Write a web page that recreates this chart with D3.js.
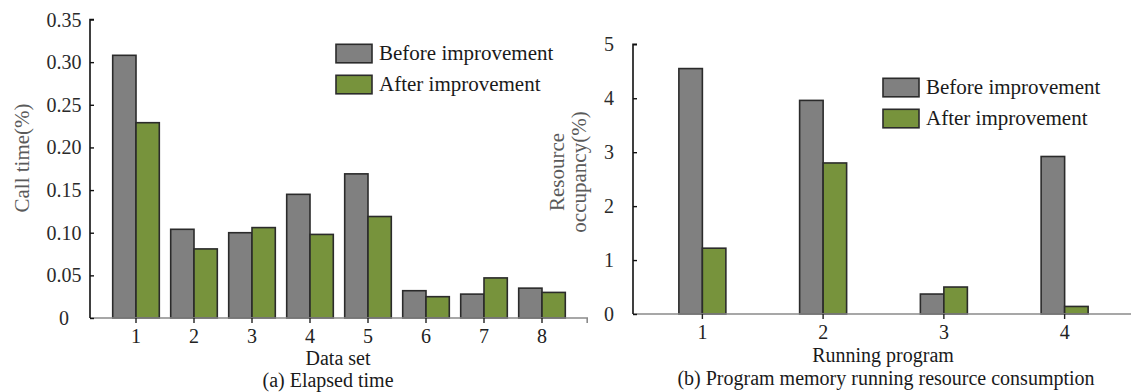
<!DOCTYPE html>
<html>
<head>
<meta charset="utf-8">
<script src="https://cdn.jsdelivr.net/npm/d3@7"></script>
<style>
  html, body { margin: 0; padding: 0; background: #fff; }
  svg { display: block; }
  text { font-family: "Liberation Serif", "Times New Roman", serif; }
</style>
</head>
<body>
<svg id="chart" width="1131" height="392"></svg>
<script>
// ---- data: (a) elapsed time ----
const dataSets = ["1", "2", "3", "4", "5", "6", "7", "8"];
const callBefore = [0.308, 0.104, 0.100, 0.145, 0.169, 0.032, 0.028, 0.035];
const callAfter  = [0.229, 0.081, 0.106, 0.098, 0.119, 0.025, 0.047, 0.030];
const callTicks  = [0, 0.05, 0.10, 0.15, 0.20, 0.25, 0.30, 0.35];

// ---- data: (b) resource consumption ----
const programs    = ["1", "2", "3", "4"];
const resBefore   = [4.55, 3.96, 0.37, 2.92];
const resAfter    = [1.22, 2.80, 0.50, 0.14];
const resTicks    = [0, 1, 2, 3, 4, 5];

const seriesNames = ["Before improvement", "After improvement"];
const seriesFill  = ["#808080", "#77933c"];
const barStroke   = "#2b2b2b";

const svg = d3.select("#chart");

function drawPanel(cfg) {
  const g = svg.append("g");
  const x = d3.scaleBand().domain(cfg.cats).range(cfg.xRange).paddingInner(0).paddingOuter(0);
  const y = d3.scaleLinear().domain(cfg.yDomain).range(cfg.yRange);
  const bw = cfg.barWidth;

  // bars: "before" to the left of the category centre, "after" to the right
  [cfg.before, cfg.after].forEach((vals, s) => {
    g.append("g").selectAll("rect")
      .data(vals)
      .join("rect")
      .attr("x", (d, i) => x(cfg.cats[i]) + x.bandwidth() / 2 + (s === 0 ? -bw : 0))
      .attr("y", d => y(d))
      .attr("width", bw)
      .attr("height", d => y(0) - y(d))
      .attr("fill", seriesFill[s])
      .attr("stroke", barStroke)
      .attr("stroke-width", 1.6);
  });

  // x axis baseline
  g.append("line")
    .attr("x1", cfg.axisX).attr("x2", cfg.xEnd)
    .attr("y1", y(0)).attr("y2", y(0))
    .attr("stroke", "#8a8a8a").attr("stroke-width", 1.6);
  if (cfg.endTick) {
    g.append("line")
      .attr("x1", cfg.xEnd - 0.8).attr("x2", cfg.xEnd - 0.8)
      .attr("y1", y(0)).attr("y2", y(0) + 5)
      .attr("stroke", "#8a8a8a").attr("stroke-width", 1.6);
  }

  // x ticks and labels
  const xa = d3.axisBottom(x).tickSize(5).tickPadding(5.5);
  const xg = g.append("g").attr("transform", `translate(0,${y(0)})`).call(xa);
  xg.select(".domain").remove();
  xg.selectAll(".tick line").attr("stroke", "#222").attr("stroke-width", 1.4);
  xg.selectAll(".tick text")
    .attr("font-size", 20).attr("fill", "#222")
    .attr("font-family", "Liberation Serif");

  // y axis (ticks pointing inward)
  const ya = d3.axisLeft(y).tickValues(cfg.ticks).tickSize(-4).tickFormat("");
  const yg = g.append("g").attr("transform", `translate(${cfg.axisX},0)`).call(ya);
  yg.select(".domain").attr("stroke", "#111").attr("stroke-width", 1.6)
    .attr("d", `M4,${y(cfg.yDomain[1])}H0V${y(0)}`);
  yg.selectAll(".tick line").attr("stroke", "#111").attr("stroke-width", 1.4);

  // y tick labels, centred in a column left of the axis
  g.append("g").selectAll("text")
    .data(cfg.ticks)
    .join("text")
    .attr("x", cfg.labelX)
    .attr("y", d => y(d))
    .attr("dy", "0.35em")
    .attr("text-anchor", "middle")
    .attr("font-size", 20)
    .attr("fill", "#2a2a2a")
    .text(cfg.fmt);

  // y axis title
  cfg.yTitle.forEach((line, i) => {
    g.append("text")
      .attr("transform", `translate(${cfg.yTitleX[i]},${cfg.yTitleY}) rotate(-90)`)
      .attr("text-anchor", "middle")
      .attr("font-size", 21)
      .attr("fill", "#5a5a5a")
      .text(line);
  });

  // x axis title and caption
  g.append("text")
    .attr("x", cfg.xTitleX).attr("y", cfg.xTitleY)
    .attr("text-anchor", "middle").attr("font-size", 20).attr("fill", "#1a1a1a")
    .text(cfg.xTitle);
  g.append("text")
    .attr("x", cfg.captionX).attr("y", cfg.captionY)
    .attr("text-anchor", "middle").attr("font-size", 20).attr("fill", "#1a1a1a")
    .text(cfg.caption);

  // legend
  const lg = g.append("g").attr("transform", `translate(${cfg.legend[0]},${cfg.legend[1]})`);
  seriesNames.forEach((name, i) => {
    lg.append("rect")
      .attr("x", 0).attr("y", i * cfg.legendStep)
      .attr("width", 36).attr("height", 18.5)
      .attr("fill", seriesFill[i]).attr("stroke", barStroke).attr("stroke-width", 1.6);
    lg.append("text")
      .attr("x", 43).attr("y", i * cfg.legendStep + 16)
      .attr("font-size", 21).attr("fill", "#1a1a1a")
      .text(name);
  });
}

// (a) Elapsed time
drawPanel({
  cats: dataSets, before: callBefore, after: callAfter, ticks: callTicks,
  xRange: [107, 571], yDomain: [0, 0.35], yRange: [318, 19.5],
  barWidth: 23.3, axisX: 90, xEnd: 588, endTick: true,
  labelX: 64, fmt: d => d === 0 ? "0" : d3.format(".2f")(d),
  yTitle: ["Call time(%)"], yTitleX: [29], yTitleY: 158,
  xTitle: "Data set", xTitleX: 338, xTitleY: 364.5,
  caption: "(a) Elapsed time", captionX: 328, captionY: 386.5,
  legend: [336, 44.3], legendStep: 31
});

// (b) Program memory running resource consumption
drawPanel({
  cats: programs, before: resBefore, after: resAfter, ticks: resTicks,
  xRange: [642, 1125], yDomain: [0, 5], yRange: [314, 44.3],
  barWidth: 23.5, axisX: 633, xEnd: 1131, endTick: false,
  labelX: 609, fmt: d => String(d),
  yTitle: ["Resource", "occupancy(%)"], yTitleX: [564, 586], yTitleY: 172,
  xTitle: "Running program", xTitleX: 883, xTitleY: 362,
  caption: "(b) Program memory running resource consumption", captionX: 886, captionY: 385,
  legend: [883, 78.3], legendStep: 31
});
</script>
</body>
</html>
